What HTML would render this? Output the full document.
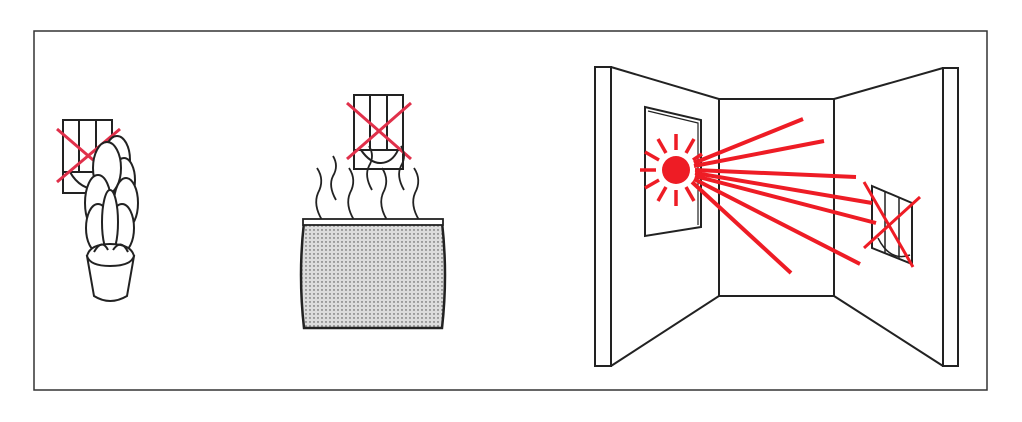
<!DOCTYPE html>
<html><head><style>body{margin:0;background:#fff}svg{display:block}</style></head><body>
<svg width="1022" height="422" viewBox="0 0 1022 422" xmlns="http://www.w3.org/2000/svg">
<defs>
<pattern id="dots" width="4" height="4" patternUnits="userSpaceOnUse"><rect width="4" height="4" fill="#dcdcdc"/><circle cx="2" cy="2" r="0.7" fill="#444"/></pattern>
</defs>
<rect x="34" y="31" width="953" height="359" fill="none" stroke="#333" stroke-width="1.5"/>
<g fill="none" stroke="#222" stroke-width="2">
<rect x="63" y="120" width="49" height="73" fill="#fff"/>
<line x1="79" y1="120" x2="79" y2="172"/><line x1="96" y1="120" x2="96" y2="172"/>
<line x1="63" y1="172" x2="112" y2="172"/>
<path d="M70 172 Q80 190 100 190"/>
</g>
<g stroke="#e0304a" stroke-width="3"><line x1="57" y1="129" x2="120" y2="183"/><line x1="120" y1="129" x2="57" y2="182"/></g>
<g fill="#fff" stroke="#222" stroke-width="2">
<ellipse cx="117" cy="160" rx="13" ry="24"/>
<ellipse cx="124" cy="180" rx="11" ry="22"/>
<ellipse cx="107" cy="168" rx="14" ry="26"/>
<ellipse cx="126" cy="203" rx="12" ry="25"/>
<ellipse cx="98" cy="203" rx="13" ry="28"/>
<ellipse cx="98" cy="228" rx="12" ry="24"/>
<ellipse cx="122" cy="228" rx="12" ry="24"/>
<ellipse cx="110" cy="222" rx="8" ry="32"/>
<path d="M87 256 L94 296 Q110 306 127 296 L134 256 Z"/>
<path d="M87 256 Q90 244 110 244 Q131 244 134 256 Q131 266 110 266 Q90 266 87 256 Z"/>
<path d="M94 252 Q102 238 108 250 M113 250 Q121 238 128 252" fill="none"/>
</g>
<g fill="#fff" stroke="#222" stroke-width="2">
<rect x="354" y="95" width="49" height="74"/>
<line x1="370" y1="95" x2="370" y2="150" fill="none"/><line x1="387" y1="95" x2="387" y2="150" fill="none"/>
<line x1="354" y1="150" x2="403" y2="150"/>
<path d="M361 150 Q370 163 380 163 Q392 163 398 150" fill="none"/>
</g>
<g stroke="#e0304a" stroke-width="3"><line x1="347" y1="103" x2="411" y2="159"/><line x1="411" y1="103" x2="347" y2="159"/></g>
<g fill="none" stroke="#222" stroke-width="1.8">
<path d="M322 220 Q313 205 318 193 Q325 180 317 168"/>
<path d="M354 220 Q345 205 350 193 Q357 180 349 168"/>
<path d="M387 220 Q378 205 383 193 Q390 180 382 168"/>
<path d="M419 220 Q410 205 415 193 Q422 180 414 168"/>
<path d="M372 190 Q364 176 369 166 Q375 156 369 146"/>
<path d="M404 190 Q396 176 401 166 Q407 156 401 146"/>
<path d="M336 200 Q328 186 333 176 Q339 166 333 156"/>
</g>
<path d="M304 222 L442 222 Q448 275 442 328 L304 328 Q298 275 304 222 Z" fill="url(#dots)" stroke="#222" stroke-width="2.5"/>
<rect x="303" y="219" width="140" height="6" fill="#fff" stroke="#222" stroke-width="1.8"/>
<g fill="#fff" stroke="#222" stroke-width="2">
<rect x="595" y="67" width="16" height="299"/>
<rect x="943" y="68" width="15" height="298"/>
<path d="M611 67 L719 99 L719 296 L611 366" fill="none"/>
<rect x="719" y="99" width="115" height="197" fill="none"/>
<path d="M834 99 L943 68 M834 296 L943 366" fill="none"/>
<path d="M645 107 L701 120 L701 227 L645 236 Z"/>
<path d="M648 111 L698 123 L698 225" fill="none" stroke-width="1.2"/>
<path d="M872 186 L912 203 L912 264 L872 248 Z"/>
<path d="M885 191 L885 253 M899 197 L899 258" fill="none" stroke-width="1.5"/>
<path d="M878 238 Q890 262 910 255" fill="none" stroke-width="1.5"/>
</g>
<circle cx="676" cy="170" r="14" fill="#ee1c25"/>
<g stroke="#ee1c25" stroke-width="3.5">
<line x1="686" y1="187" x2="694" y2="201"/>
<line x1="676" y1="190" x2="676" y2="206"/>
<line x1="666" y1="187" x2="658" y2="201"/>
<line x1="659" y1="180" x2="645" y2="188"/>
<line x1="656" y1="170" x2="640" y2="170"/>
<line x1="659" y1="160" x2="645" y2="152"/>
<line x1="666" y1="153" x2="658" y2="139"/>
<line x1="676" y1="150" x2="676" y2="134"/>
<line x1="686" y1="153" x2="694" y2="139"/>
<line x1="693" y1="160" x2="702" y2="154"/>
</g>
<g stroke="#ee1c25" stroke-width="4">
<line x1="694" y1="163" x2="803" y2="119"/>
<line x1="694" y1="166" x2="824" y2="141"/>
<line x1="695" y1="170" x2="856" y2="177"/>
<line x1="695" y1="173" x2="872" y2="203"/>
<line x1="695" y1="176" x2="876" y2="223"/>
<line x1="694" y1="179" x2="860" y2="264"/>
<line x1="692" y1="182" x2="791" y2="273"/>
</g>
<g stroke="#ee1c25" stroke-width="3"><line x1="864" y1="182" x2="913" y2="267"/><line x1="920" y1="197" x2="864" y2="248"/></g>
</svg>
</body></html>
